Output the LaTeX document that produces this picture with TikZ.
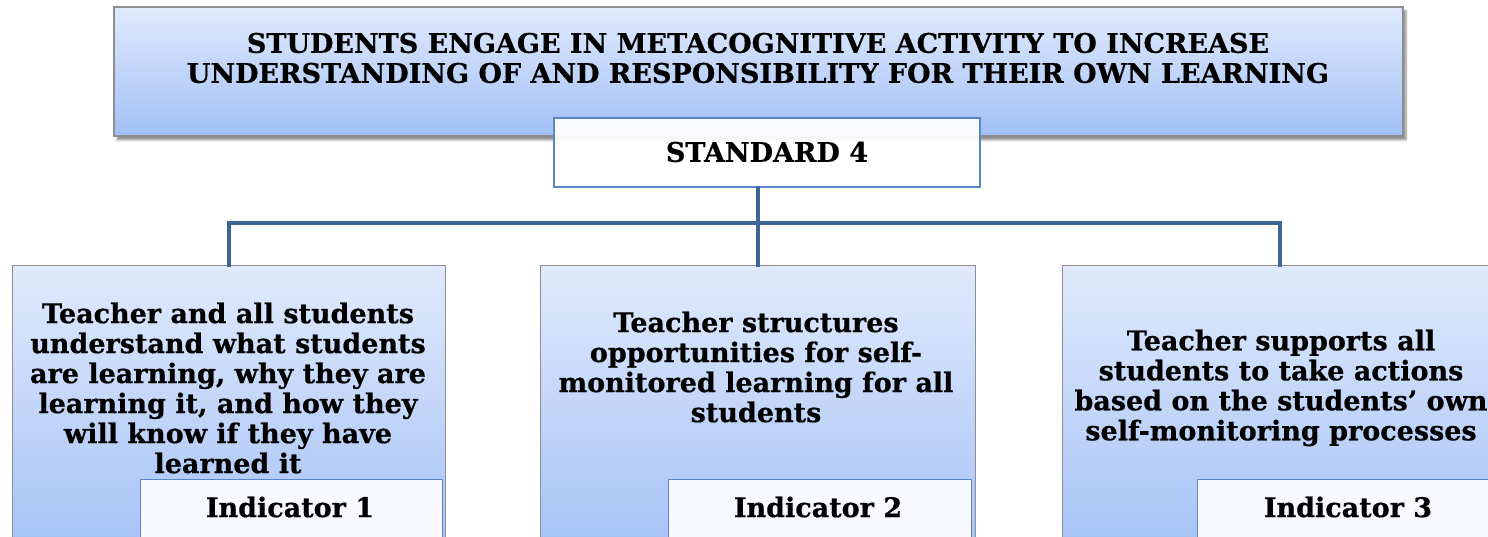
\documentclass[tikz,border=0pt]{standalone}
\usepackage{fontspec}
\setmainfont{DejaVu Serif}[BoldFeatures={FakeBold=0.6}]
\usetikzlibrary{shadows.blur}
\definecolor{gtop}{HTML}{E0EAFC}
\definecolor{gbot}{HTML}{A2C0F6}
\definecolor{boxedge}{HTML}{8E8E8E}
\definecolor{bluedge}{HTML}{5A86C4}
\definecolor{connc}{HTML}{3E6594}
\definecolor{indfill}{HTML}{F7F9FF}
\tikzset{
  gradbox/.style={draw=boxedge, line width=1.2pt, top color=gtop, bottom color=gbot, inner sep=0pt},
  whitebox/.style={draw=bluedge, line width=1.4pt, fill=indfill, inner sep=0pt},
  txt/.style={font=\bfseries\fontsize{27}{30}\selectfont, align=center, inner sep=0pt},
  conn/.style={draw=connc, line width=4pt, line join=miter, line cap=rect},
}
\begin{document}
\begin{tikzpicture}[x=1pt,y=-1pt]
\useasboundingbox (0,0) rectangle (1488,537);
\clip (0,0) rectangle (1488,537);
% top box
\node[gradbox, blur shadow={shadow xshift=3pt, shadow yshift=-4pt, shadow blur steps=6, shadow opacity=45}, minimum width=1289pt, minimum height=129pt] (top) at (758.5,71.5) {};
\node[txt] (title) at (758,58) {STUDENTS ENGAGE IN METACOGNITIVE ACTIVITY TO INCREASE\\UNDERSTANDING OF AND RESPONSIBILITY FOR THEIR OWN LEARNING};
% bottom boxes
\node[gradbox, minimum width=433pt, minimum height=300pt, anchor=north west] (b1) at (12,265) {};
\node[gradbox, minimum width=435pt, minimum height=300pt, anchor=north west] (b2) at (540,265) {};
\node[gradbox, minimum width=435pt, minimum height=300pt, anchor=north west] (b3) at (1062,265) {};
% connectors
\coordinate (bus) at (757,223);
\draw[conn] (b1.north) |- (bus) -| (b3.north);
% standard box
\node[whitebox, fill=white, fill opacity=0.93, text opacity=1, minimum width=426pt, minimum height=69pt] (std) at (767,152.5) {};
\draw[conn] (b2.north) -- (b2.north |- std.south);
\node[txt] (stdt) at (767,152) {STANDARD 4};
% texts
\node[txt] (t1) at (228,388) {Teacher and all students\\understand what students\\are learning, why they are\\learning it, and how they\\will know if they have\\learned it};
\node[txt] (t2) at (756,367) {Teacher structures\\opportunities for self-\\monitored learning for all\\students};
\node[txt] (t3) at (1281,388) {Teacher supports all\\students to take actions\\based on the students’ own\\self-monitoring processes};
% indicator boxes
\node[whitebox, minimum width=302pt, minimum height=80pt, anchor=north west] (i1) at (140,479) {};
\node[whitebox, minimum width=303pt, minimum height=80pt, anchor=north west] (i2) at (668,479) {};
\node[whitebox, minimum width=303pt, minimum height=80pt, anchor=north west] (i3) at (1197,479) {};
\node[txt] (i1t) at (290,507) {Indicator 1};
\node[txt] (i2t) at (818,507) {Indicator 2};
\node[txt] (i3t) at (1348,507) {Indicator 3};
\end{tikzpicture}
\end{document}
